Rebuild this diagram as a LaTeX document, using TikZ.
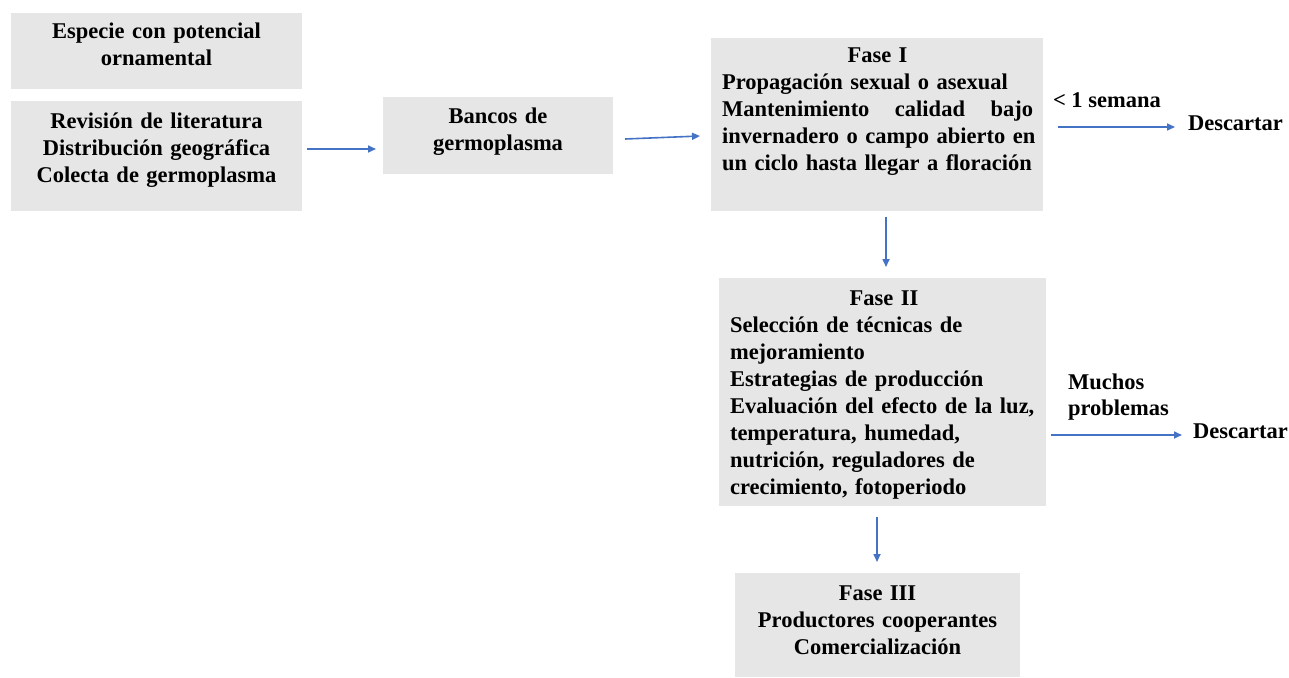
\documentclass[tikz,border=0pt]{standalone}
\usepackage{fontspec}
\setmainfont{Liberation Serif}
\usetikzlibrary{arrows.meta}
\definecolor{boxgray}{HTML}{E7E6E6}
\definecolor{arrblue}{HTML}{4472C4}
\tikzset{
  box/.style={fill=boxgray, draw=none, inner sep=0pt, outer sep=0pt},
  txt/.style={inner sep=0pt, outer sep=0pt, font=\fontsize{22.5}{27}\selectfont\bfseries},
  ctxt/.style={txt, align=center},
  arr/.style={draw=arrblue, line width=1.6pt, -{Triangle[length=8pt,width=7pt]}}
}
\begin{document}
\begin{tikzpicture}[x=1pt,y=-1pt]
\useasboundingbox (0,0) rectangle (1289,677);
% boxes
\node[box, minimum width=291pt, minimum height=76pt, anchor=north west] (b1) at (11,13) {};
\node[box, minimum width=291pt, minimum height=110pt, anchor=north west] (b2) at (11,101) {};
\node[box, minimum width=230pt, minimum height=77pt, anchor=north west] (banc) at (383,97) {};
\node[box, minimum width=332pt, minimum height=173pt, anchor=north west] (f1) at (711,38) {};
\node[box, minimum width=327pt, minimum height=228pt, anchor=north west] (f2) at (719,278) {};
\node[box, minimum width=285pt, minimum height=104pt, anchor=north west] (f3) at (735,573) {};
% texts
\node[ctxt, text width=291pt, anchor=base] (t1) at (156.5,39) {Especie con potencial\\ornamental};
\node[ctxt, text width=291pt, anchor=base] (t2) at (156.5,128) {Revisión de literatura\\Distribución geográfica\\Colecta de germoplasma};
\node[ctxt, text width=230pt, anchor=base] (tb) at (498,123) {Bancos de\\germoplasma};
\node[txt, text width=311pt, align=left, anchor=base west] (tf1) at (722,63)
  {\makebox[\linewidth][c]{Fase I}\\
   Propagación sexual o asexual\\
   \makebox[\linewidth][s]{Mantenimiento\hfill calidad\hfill bajo}\\
   \makebox[\linewidth][s]{invernadero o campo abierto en}\\
   un ciclo hasta llegar a floración};
\node[txt, text width=308pt, align=left, anchor=base west] (tf2) at (730,305)
  {\makebox[\linewidth][c]{Fase II}\\
   Selección de técnicas de\\
   mejoramiento\\
   Estrategias de producción\\
   Evaluación del efecto de la luz,\\
   temperatura, humedad,\\
   nutrición, reguladores de\\
   crecimiento, fotoperiodo};
\node[ctxt, text width=285pt, anchor=base] (tf3) at (877.5,600) {Fase III\\Productores cooperantes\\Comercialización};
% side labels
\node[txt, anchor=base west] (sem) at (1053,107) {< 1 semana};
\node[txt, anchor=base west] (d1) at (1188,130) {Descartar};
\node[txt, text width=130pt, align=left, anchor=base west] (mp) at (1068,389) {Muchos\\[-1pt]problemas};
\node[txt, anchor=base west] (d2) at (1193,438) {Descartar};
\coordinate (e1) at (1188,127);
\coordinate (e2) at (1193,435);
% arrows
\draw[arr, shorten <=5pt, shorten >=7pt] (b2.east |- 0,149) -- (banc.west |- 0,149);
\draw[arr] ([shift={(12,3.5)}]banc.east) -- ([shift={(-11,11.5)}]f1.west);
\draw[arr, shorten <=15pt, shorten >=13pt] (f1.east |- e1) -- (e1);
\draw[arr, shorten <=6pt, shorten >=11pt] ([xshift=9pt]f1.south) -- ([xshift=3.5pt]f2.north);
\draw[arr, shorten <=5pt, shorten >=11pt] (f2.east |- e2) -- (e2);
\draw[arr, shorten <=11pt, shorten >=11pt] ([xshift=-5.5pt]f2.south) -- ([xshift=-0.5pt]f3.north);
\end{tikzpicture}
\end{document}
